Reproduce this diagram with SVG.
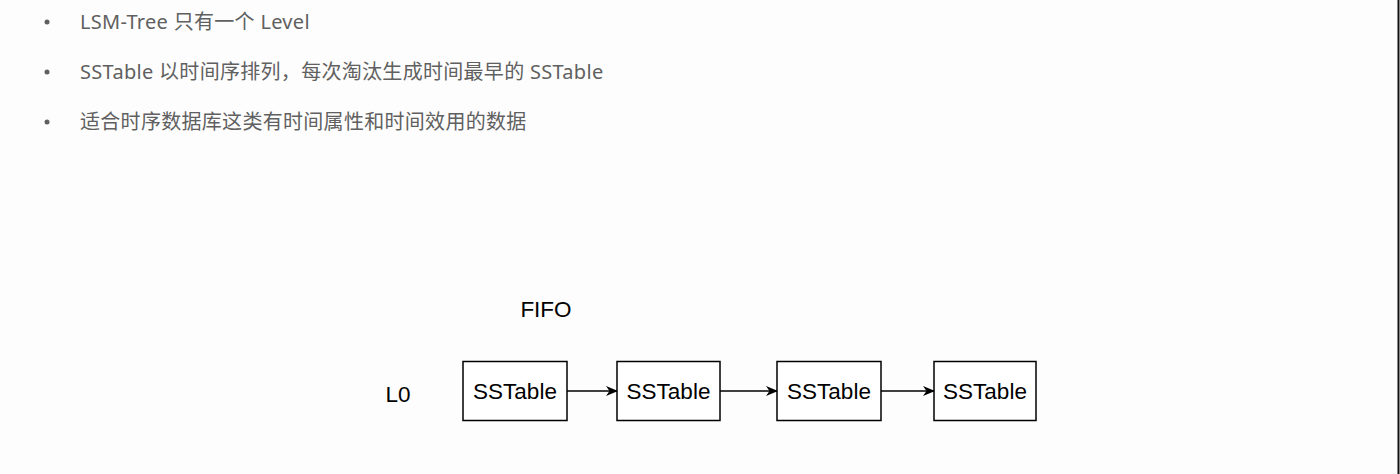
<svg xmlns="http://www.w3.org/2000/svg" width="1400" height="474" viewBox="0 0 1400 474">
<style>
.bul{font-family:"Noto Sans","Noto Sans CJK SC",sans-serif;font-size:20px;letter-spacing:0.3px;fill:#606060}
.box{fill:#fff;stroke:#000;stroke-width:1.5}
.lbl{font-family:"Liberation Sans",Arial,sans-serif;font-size:22.5px;fill:#000}
.con{stroke:#000;stroke-width:1.5;fill:none}
</style>
<defs>
<marker id="ah" viewBox="0 0 12 10" refX="11" refY="5" markerWidth="12" markerHeight="10" markerUnits="userSpaceOnUse" orient="auto">
<path d="M0,0 L12,5 L0,10 L3.5,5 Z" fill="#000"/>
</marker>
</defs>
<rect width="1400" height="474" fill="#fdfdfd"/>
<line x1="1398.5" y1="0" x2="1398.5" y2="474" stroke="#111" stroke-width="2"/>
<g id="bullets">
<circle cx="47" cy="22" r="2.5" fill="#606060"/>
<text class="bul" x="80" y="29">LSM-Tree 只有一个 Level</text>
<circle cx="47" cy="72" r="2.5" fill="#606060"/>
<text class="bul" x="80" y="79">SSTable 以时间序排列，每次淘汰生成时间最早的 SSTable</text>
<circle cx="47" cy="122" r="2.5" fill="#606060"/>
<text class="bul" x="80" y="129">适合时序数据库这类有时间属性和时间效用的数据</text>
</g>
<text id="fifo" class="lbl" x="546" y="317" text-anchor="middle">FIFO</text>
<text id="l0" class="lbl" x="398" y="402" text-anchor="middle">L0</text>
<g id="connectors">
<line class="con" x1="567" y1="391" x2="617" y2="391" marker-end="url(#ah)"/>
<line class="con" x1="720" y1="391" x2="777" y2="391" marker-end="url(#ah)"/>
<line class="con" x1="881" y1="391" x2="934" y2="391" marker-end="url(#ah)"/>
</g>
<g id="n1"><rect class="box" x="463" y="361.5" width="104" height="59"/><text class="lbl" x="515" y="399" text-anchor="middle">SSTable</text></g>
<g id="n2"><rect class="box" x="617" y="361.5" width="103" height="59"/><text class="lbl" x="668.5" y="399" text-anchor="middle">SSTable</text></g>
<g id="n3"><rect class="box" x="777" y="361.5" width="104" height="59"/><text class="lbl" x="829" y="399" text-anchor="middle">SSTable</text></g>
<g id="n4"><rect class="box" x="934" y="361.5" width="102" height="59"/><text class="lbl" x="985" y="399" text-anchor="middle">SSTable</text></g>
</svg>
